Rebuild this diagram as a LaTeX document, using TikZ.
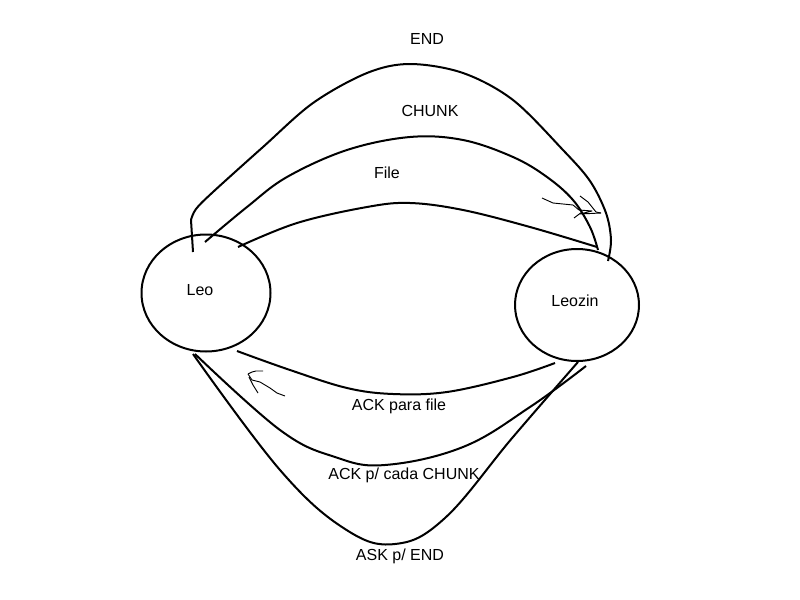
\documentclass[tikz,border=0pt]{standalone}
\usepackage{fontspec}
\setmainfont{Liberation Sans}
\usetikzlibrary{shapes.geometric}
\begin{document}
\begin{tikzpicture}[x=0.75pt,y=-0.75pt,
  state/.style={draw,ellipse,line width=1.5pt,inner sep=0pt},
  conn/.style={line width=1.5pt,line join=round},
  scrib/.style={line width=0.7pt,line join=round},
  lbl/.style={font=\fontsize{12}{14}\selectfont,inner sep=0pt}]
\useasboundingbox (0,0) rectangle (800,600);
\node[state,minimum width=129*0.75pt,minimum height=117*0.75pt] (leo) at (206,293) {};
\node[state,minimum width=124*0.75pt,minimum height=112*0.75pt] (leozin) at (577,305) {};
\node[lbl] (leotxt) at (200,290) {Leo};
\node[lbl] (leozintxt) at (575,301) {Leozin};
% endpoints
\coordinate (endA) at (193,252);
\coordinate (endB) at (608,261);
\coordinate (chA) at (205,242);
\coordinate (chB) at (598,250);
\coordinate (fA) at (238,247);
\coordinate (fB) at (597,247);
\coordinate (afA) at (237,351);
\coordinate (afB) at (555,363);
\coordinate (acA) at (195,354);
\coordinate (acB) at (586,366);
\coordinate (aeA) at (193,354);
\coordinate (aeB) at (578,362);
% top connectors
\draw[conn] (endA) -- (191,220) plot[smooth,tension=0.55] coordinates {(191,220) (196,209) (213,192) (263,147) (313,103) (367,73) (410,64) (463,73) (513,100) (563,150) (590,181) (606,213) (611,240) (endB)};
\draw[conn] plot[smooth,tension=0.6] coordinates {(chA) (247,207) (287,177) (347,150) (410,137) (463,140) (513,157) (547,177) (573,200) (590,227) (chB)};
\draw[conn] plot[smooth,tension=0.6] coordinates {(fA) (297,223) (367,207) (410,203) (463,210) (530,227) (fB)};
% bottom connectors
\draw[conn] plot[smooth,tension=0.6] coordinates {(afA) (290,370) (347,388) (393,394) (447,392) (513,377) (afB)};
\draw[conn] plot[smooth,tension=0.65] coordinates {(acA) (280,430) (335,457) (385,465) (463,447) (530,407) (acB)};
\draw[conn] plot[smooth,tension=0.65] coordinates {(aeA) (280,470) (345,529) (395,544) (445,518) (513,437) (aeB)};
% labels
\node[lbl] (lend) at (427,39) {END};
\node[lbl] (lchunk) at (430,111) {CHUNK};
\node[lbl] (lfile) at (387,173) {File};
\node[lbl] (lackf) at (399,406) {ACK para file};
\node[lbl] (lackc) at (404,475) {ACK p/ cada CHUNK};
\node[lbl] (lask) at (400,556) {ASK p/ END};
% scribbles
\draw[scrib] (542,198) -- (553,203) -- (573,205) -- (579,210) -- (592,211) -- (580,214) -- (601,213);
\draw[scrib] (580,196) -- (588,202) -- (596,212) -- (601,213);
\draw[scrib] (574,218) -- (582,212);
\draw[scrib] (248,374) -- (252,372) -- (256,371) -- (263,371);
\draw[scrib] (248,374) -- (252,380) -- (260,382) -- (270,388) -- (277,393) -- (285,396);
\draw[scrib] (249,377) -- (253,385) -- (258,393);
\end{tikzpicture}
\end{document}
